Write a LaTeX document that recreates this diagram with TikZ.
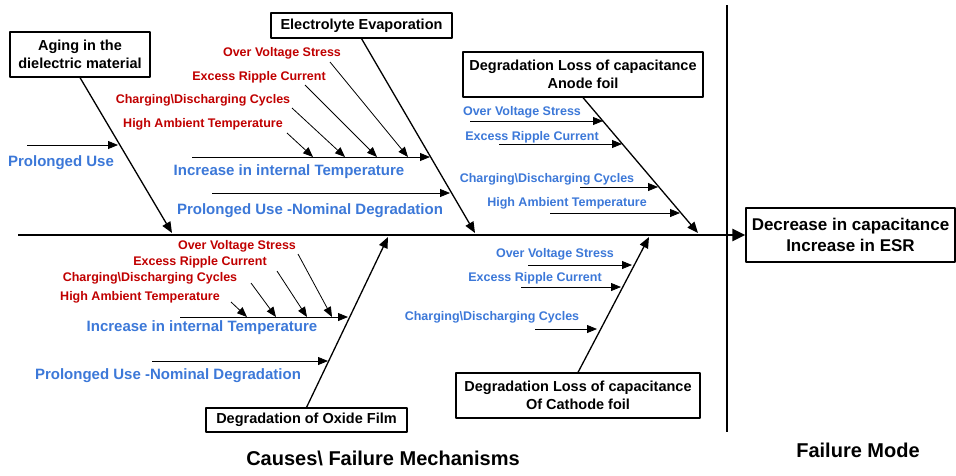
\documentclass[tikz,border=0pt]{standalone}
\usepackage{fontspec}
\setmainfont{Liberation Sans}
\usetikzlibrary{arrows.meta}
\definecolor{redc}{RGB}{192,0,0}
\definecolor{bluec}{RGB}{60,120,216}
\newcommand{\fsz}[2]{\fontsize{#1}{#2}\selectfont\bfseries}
\newcommand{\bsl}{\textbackslash}
\begin{document}
\begin{tikzpicture}[x=1pt,y=-1pt,line join=round,>={Triangle[length=10pt,width=8pt]},
  box/.style={draw,line width=1.2pt,fill=white,align=center,inner sep=0pt,font=\fsz{14.5}{18}},
  redtxt/.style={text=redc,font=\fsz{12.5}{14}},
  bluetxt/.style={text=bluec,font=\fsz{15}{18}},
  bluesm/.style={text=bluec,font=\fsz{12.5}{14}},
  bone/.style={-{Triangle[length=11pt,width=9pt]},line width=1.3pt},
  twig/.style={->,line width=0.8pt}]
\useasboundingbox (0,0) rectangle (956,475);

% spine and failure mode
\coordinate (tail) at (18,235);
\node[box,minimum width=209pt,minimum height=54pt,font=\fsz{17}{21}] (fm) at (850.5,235) {Decrease in capacitance\\Increase in ESR};
\draw[line width=2.6pt,-{Triangle[length=13pt,width=12pt]}] (tail) -- (fm.west);
\coordinate (vtop) at (727,5);
\coordinate (vbot) at (727,432);
\draw[line width=2.6pt] (vtop) -- (vbot);
\node[font=\fsz{20}{24}] (fmlab) at (858,450) {Failure Mode};
\node[font=\fsz{20}{24}] (cmlab) at (383,458) {Causes\bsl{} Failure Mechanisms};

% aging in the dielectric material
\node[box,minimum width=140pt,minimum height=45pt] (age) at (80,54.5) {Aging in the\\dielectric material};
\coordinate (age-e) at (172,233);
\draw[bone] (age.south) -- (age-e);
\node[bluetxt] (pu) at (61,163) {Prolonged Use};
\coordinate (pu-s) at (27,145);
\coordinate (pu-e) at (118,145);
\draw[twig] (pu-s) -- (pu-e);

% electrolyte evaporation
\node[box,minimum width=181pt,minimum height=25pt] (ele) at (361.5,25.5) {Electrolyte Evaporation};
\coordinate (ele-e) at (475,233);
\draw[bone] (ele.south) -- (ele-e);
\node[bluetxt] (iit1) at (289,172) {Increase in internal Temperature};
\node[bluetxt] (pnd1) at (310,211) {Prolonged Use -Nominal Degradation};
\coordinate (iit1-s) at (192,157);
\coordinate (iit1-e) at (430,157);
\coordinate (pnd1-s) at (212,193);
\coordinate (pnd1-e) at (450,193);
\draw[twig] (iit1-s) -- (iit1-e);
\draw[twig] (pnd1-s) -- (pnd1-e);
\node[redtxt] (ovs1) at (282,53) {Over Voltage Stress};
\node[redtxt] (erc1) at (259,77) {Excess Ripple Current};
\node[redtxt] (cdc1) at (203,100) {Charging\bsl Discharging Cycles};
\node[redtxt] (hat1) at (203,124) {High Ambient Temperature};
\coordinate (ovs1-s) at (330,62);  \coordinate (ovs1-e) at (408,157);
\coordinate (erc1-s) at (305,85);  \coordinate (erc1-e) at (377,157);
\coordinate (cdc1-s) at (292,108); \coordinate (cdc1-e) at (345,157);
\coordinate (hat1-s) at (287,133); \coordinate (hat1-e) at (313,157);
\foreach \c in {ovs1,erc1,cdc1,hat1}
  \draw[twig] (\c-s) -- (\c-e);

% anode foil
\node[box,minimum width=240pt,minimum height=45pt] (ano) at (583,74.5) {Degradation Loss of capacitance\\Anode foil};
\coordinate (ano-e) at (698,233);
\draw[bone] (ano.south) -- (ano-e);
\node[bluesm] (ovs3) at (522,112) {Over Voltage Stress};
\node[bluesm] (erc3) at (532,137) {Excess Ripple Current};
\node[bluesm] (cdc3) at (547,179) {Charging\bsl Discharging Cycles};
\node[bluesm] (hat3) at (567,203) {High Ambient Temperature};
\coordinate (ovs3-s) at (470,121); \coordinate (ovs3-e) at (603,121);
\coordinate (erc3-s) at (499,144); \coordinate (erc3-e) at (622,144);
\coordinate (cdc3-s) at (580,187); \coordinate (cdc3-e) at (658,187);
\coordinate (hat3-s) at (550,213); \coordinate (hat3-e) at (680,213);
\foreach \c in {ovs3,erc3,cdc3,hat3}
  \draw[twig] (\c-s) -- (\c-e);

% oxide film
\node[box,minimum width=201pt,minimum height=24pt] (oxf) at (306.5,420) {Degradation of Oxide Film};
\coordinate (oxf-e) at (388,237);
\draw[bone] (oxf.north) -- (oxf-e);
\node[bluetxt] (iit2) at (202,328) {Increase in internal Temperature};
\node[bluetxt] (pnd2) at (168,376) {Prolonged Use -Nominal Degradation};
\coordinate (iit2-s) at (180,317);
\coordinate (iit2-e) at (348,317);
\coordinate (pnd2-s) at (152,361);
\coordinate (pnd2-e) at (328,361);
\draw[twig] (iit2-s) -- (iit2-e);
\draw[twig] (pnd2-s) -- (pnd2-e);
\node[redtxt] (ovs2) at (237,246) {Over Voltage Stress};
\node[redtxt] (erc2) at (200,262) {Excess Ripple Current};
\node[redtxt] (cdc2) at (150,278) {Charging\bsl Discharging Cycles};
\node[redtxt] (hat2) at (140,297) {High Ambient Temperature};
\coordinate (ovs2-s) at (298,254); \coordinate (ovs2-e) at (332,317);
\coordinate (erc2-s) at (277,271); \coordinate (erc2-e) at (307,317);
\coordinate (cdc2-s) at (251,283); \coordinate (cdc2-e) at (276,317);
\coordinate (hat2-s) at (231,302); \coordinate (hat2-e) at (247,317);
\foreach \c in {ovs2,erc2,cdc2,hat2}
  \draw[twig] (\c-s) -- (\c-e);

% cathode foil
\node[box,minimum width=244pt,minimum height=45pt] (cat) at (578,395.5) {Degradation Loss of capacitance\\Of Cathode foil};
\coordinate (cat-e) at (649,237);
\draw[bone] (cat.north) -- (cat-e);
\node[bluesm] (ovs4) at (555,254) {Over Voltage Stress};
\node[bluesm] (erc4) at (535,278) {Excess Ripple Current};
\node[bluesm] (cdc4) at (492,317) {Charging\bsl Discharging Cycles};
\coordinate (ovs4-s) at (528,265); \coordinate (ovs4-e) at (632,265);
\coordinate (erc4-s) at (521,287); \coordinate (erc4-e) at (621,287);
\coordinate (cdc4-s) at (535,329); \coordinate (cdc4-e) at (597,329);
\foreach \c in {ovs4,erc4,cdc4}
  \draw[twig] (\c-s) -- (\c-e);

\end{tikzpicture}
\end{document}
